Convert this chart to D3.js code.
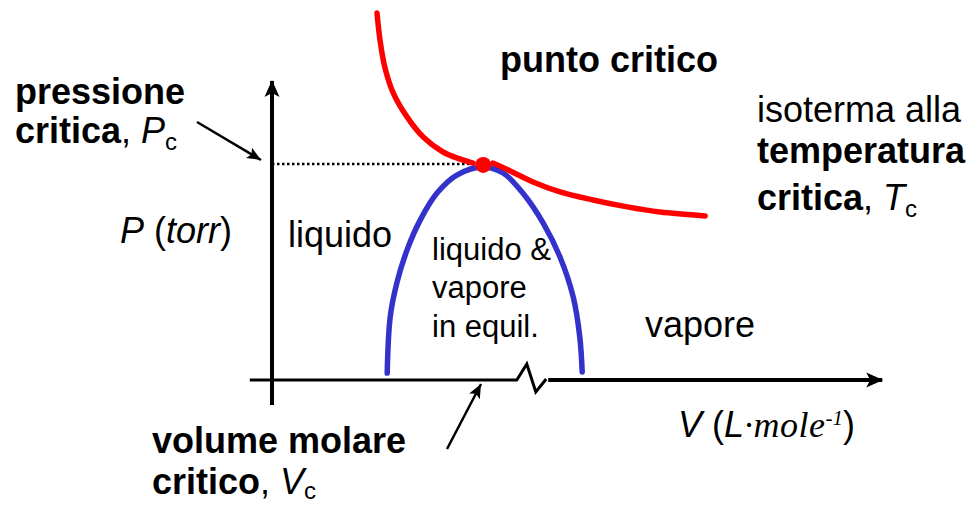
<!DOCTYPE html>
<html>
<head>
<meta charset="utf-8">
<script src="https://cdn.jsdelivr.net/npm/d3@7"></script>
<style>
  html, body { margin: 0; padding: 0; background: #fff; }
  svg text { font-family: "Liberation Sans", Arial, Helvetica, sans-serif; fill: #000; }
</style>
</head>
<body>
<svg id="chart" width="973" height="505"></svg>
<script>
// Critical isotherm, left branch (V, P) in arbitrary units
const isoLeftV = [17.5, 18.0, 18.8, 20.2, 22.5, 25.2, 28.5, 31.3, 33.5];
const isoLeftP = [122.3, 113.3, 104.3, 95.7, 87.7, 81.0, 76.0, 73.7, 72.3];
// Critical isotherm, right branch
const isoRightV = [36.8, 39.7, 43.5, 48.0, 53.5, 59.2, 64.7, 72.2];
const isoRightP = [72.3, 69.7, 66.0, 62.7, 60.0, 57.7, 56.0, 54.7];
// Coexistence dome (liquid + vapour)
const domeV = [19.2, 19.7, 20.8, 22.5, 24.7, 27.5, 30.8, 35.2, 38.5, 41.8, 45.2, 48.0, 50.2, 51.3, 51.7];
const domeP = [2.3, 21.0, 32.3, 43.3, 53.3, 62.3, 68.3, 71.0, 69.0, 62.3, 52.3, 41.0, 27.7, 14.3, 2.7];
// Critical point
const criticalV = 35.2;
const criticalP = 71.7;
// Axis extents and the break on the V axis
const axisV = [-3.7, 101.7];
const axisP = [-8.3, 99.7];
const breakV = [40.8, 45.7];

const svg = d3.select("#chart");
const x = d3.scaleLinear().domain([0, 100]).range([272, 872]);
const y = d3.scaleLinear().domain([0, 100]).range([380, 80]);

const defs = svg.append("defs");
defs.append("marker")
  .attr("id", "axisHead").attr("markerUnits", "userSpaceOnUse")
  .attr("viewBox", "0 -8 18 16").attr("refX", 16).attr("refY", 0)
  .attr("markerWidth", 18).attr("markerHeight", 16).attr("orient", "auto")
  .append("path").attr("d", "M0,-7.5L17,0L0,7.5L4,0Z").attr("fill", "#000");
defs.append("marker")
  .attr("id", "ptrHead").attr("markerUnits", "userSpaceOnUse")
  .attr("viewBox", "0 -7 15 14").attr("refX", 14).attr("refY", 0)
  .attr("markerWidth", 15).attr("markerHeight", 14).attr("orient", "auto")
  .append("path").attr("d", "M0,-6L14,0L0,6L3,0Z").attr("fill", "#000");

const line = d3.line().x(d => x(d[0])).y(d => y(d[1])).curve(d3.curveCatmullRom.alpha(0.5));
const zip = (a, b) => a.map((v, i) => [v, b[i]]);

// P axis
svg.append("line")
  .attr("x1", x(0)).attr("x2", x(0))
  .attr("y1", y(axisP[0])).attr("y2", y(axisP[1]))
  .attr("stroke", "#000").attr("stroke-width", 4)
  .attr("marker-end", "url(#axisHead)");

// V axis with a break
const ay = y(0);
svg.append("path")
  .attr("d", `M${x(axisV[0])},${ay}H${x(breakV[0])}L${x(breakV[0]) + 10},${ay - 16}L${x(breakV[0]) + 19},${ay + 12}L${x(breakV[1])},${ay - 1}`)
  .attr("fill", "none").attr("stroke", "#000").attr("stroke-width", 3);
svg.append("line")
  .attr("x1", x(breakV[1]) + 2).attr("x2", x(axisV[1]))
  .attr("y1", ay).attr("y2", ay)
  .attr("stroke", "#000").attr("stroke-width", 4)
  .attr("marker-end", "url(#axisHead)");

// Dotted guide to the critical pressure
svg.append("line")
  .attr("x1", x(0)).attr("x2", x(criticalV))
  .attr("y1", y(criticalP) - 1).attr("y2", y(criticalP) - 1)
  .attr("stroke", "#000").attr("stroke-width", 2.5).attr("stroke-dasharray", "2.5,2.5");

// Dome
svg.append("path").attr("d", line(zip(domeV, domeP)))
  .attr("fill", "none").attr("stroke", "#3333cc").attr("stroke-width", 5.5).attr("stroke-linecap", "round");

// Critical isotherm
[zip(isoLeftV, isoLeftP), zip(isoRightV, isoRightP)].forEach(pts => {
  svg.append("path").attr("d", line(pts))
    .attr("fill", "none").attr("stroke", "#ff0000").attr("stroke-width", 5.5).attr("stroke-linecap", "round");
});
svg.append("circle").attr("cx", x(criticalV)).attr("cy", y(criticalP)).attr("r", 8).attr("fill", "#ff0000");

// Pointer arrows
svg.append("line").attr("x1", 197).attr("y1", 122).attr("x2", 261).attr("y2", 160)
  .attr("stroke", "#000").attr("stroke-width", 2.5).attr("marker-end", "url(#ptrHead)");
svg.append("line").attr("x1", 447).attr("y1", 449).attr("x2", 481).attr("y2", 384)
  .attr("stroke", "#000").attr("stroke-width", 2.5).attr("marker-end", "url(#ptrHead)");

// Labels
function label(xp, yp, parts, size) {
  const t = svg.append("text").attr("x", xp).attr("y", yp).attr("font-size", size);
  parts.forEach(p => {
    const s = t.append("tspan").text(p.t);
    if (p.b) s.attr("font-weight", "bold");
    if (p.i) s.attr("font-style", "italic");
    if (p.sub) s.attr("font-size", p.sub).attr("dy", p.dy);
    if (p.ff) s.attr("font-family", p.ff);
    if (p.ls) s.attr("letter-spacing", p.ls);
    if (p.dy && !p.sub) s.attr("dy", p.dy);
    if (p.fs) s.attr("font-size", p.fs);
  });
  return t;
}

label(500, 72, [{t: "punto critico", b: true}], 36);
label(15, 104, [{t: "pressione", b: true}], 36);
label(15, 143, [{t: "critica", b: true}, {t: ", "}, {t: "P", i: true}, {t: "c", sub: 24, dy: 7}], 36);
label(120, 243, [{t: "P", i: true}, {t: " ("}, {t: "torr", i: true}, {t: ")"}], 36);
label(288, 247, [{t: "liquido"}], 36);
label(432, 260, [{t: "liquido &"}], 31);
label(432, 298, [{t: "vapore"}], 31);
label(432, 337, [{t: "in equil."}], 31);
label(645, 337, [{t: "vapore"}], 36);
label(757, 122, [{t: "isoterma alla"}], 36);
label(757, 163, [{t: "temperatura", b: true}], 36);
label(757, 210, [{t: "critica", b: true}, {t: ", "}, {t: "T", i: true}, {t: "c", sub: 24, dy: 7}], 36);
label(678, 437, [
  {t: "V", i: true}, {t: " ("}, {t: "L", i: true},
  {t: "·mole", i: true, ff: "'Liberation Serif', 'Times New Roman', serif", ls: 0.5},
  {t: "-1", i: true, ff: "'Liberation Serif', 'Times New Roman', serif", sub: 21, dy: -12},
  {t: ")", dy: 12, fs: 36}
], 36);
label(152, 453, [{t: "volume molare", b: true}], 36);
label(152, 494, [{t: "critico", b: true}, {t: ", "}, {t: "V", i: true}, {t: "c", sub: 24, dy: 5}], 36);
</script>
</body>
</html>
